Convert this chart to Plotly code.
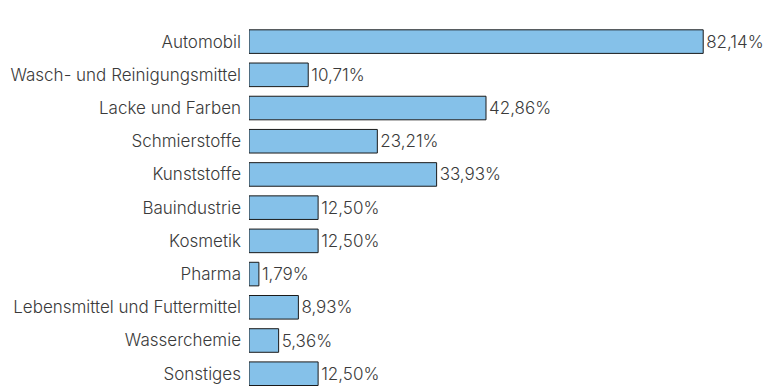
import plotly.graph_objects as go

categories = ["Automobil", "Wasch- und Reinigungsmittel", "Lacke und Farben", "Schmierstoffe",
              "Kunststoffe", "Bauindustrie", "Kosmetik", "Pharma",
              "Lebensmittel und Futtermittel", "Wasserchemie", "Sonstiges"]
values = [82.14, 10.71, 42.86, 23.21, 33.93, 12.50, 12.50, 1.79, 8.93, 5.36, 12.50]
labels = [f"{v:.2f}".replace(".", ",") + "%" for v in values]

FONT = "Inter"
fig = go.Figure(go.Bar(
    y=categories, x=values, orientation="h",
    marker=dict(color="#85C1E9", line=dict(color="#1a1a1a", width=1)),
    width=0.71,
    text=labels, textposition="outside", cliponaxis=False,
    textfont=dict(size=17, color="#3a3a3a", family=FONT, weight=300),
))

fig.update_layout(
    width=771, height=386,
    margin=dict(l=249, r=0, t=25, b=0),
    plot_bgcolor="white", paper_bgcolor="white",
    showlegend=False,
    font=dict(family=FONT, size=17, color="#3a3a3a", weight=300),
    uniformtext=dict(mode=False),
)
fig.update_xaxes(range=[0, 94.4], visible=False, showgrid=False, zeroline=False)
fig.update_yaxes(range=[10.37, -0.5], showgrid=False, zeroline=False, showline=False,
                 ticks="", ticklabelstandoff=7,
                 tickfont=dict(size=17, color="#3a3a3a", family=FONT, weight=300))

fig.write_html("out.html")
